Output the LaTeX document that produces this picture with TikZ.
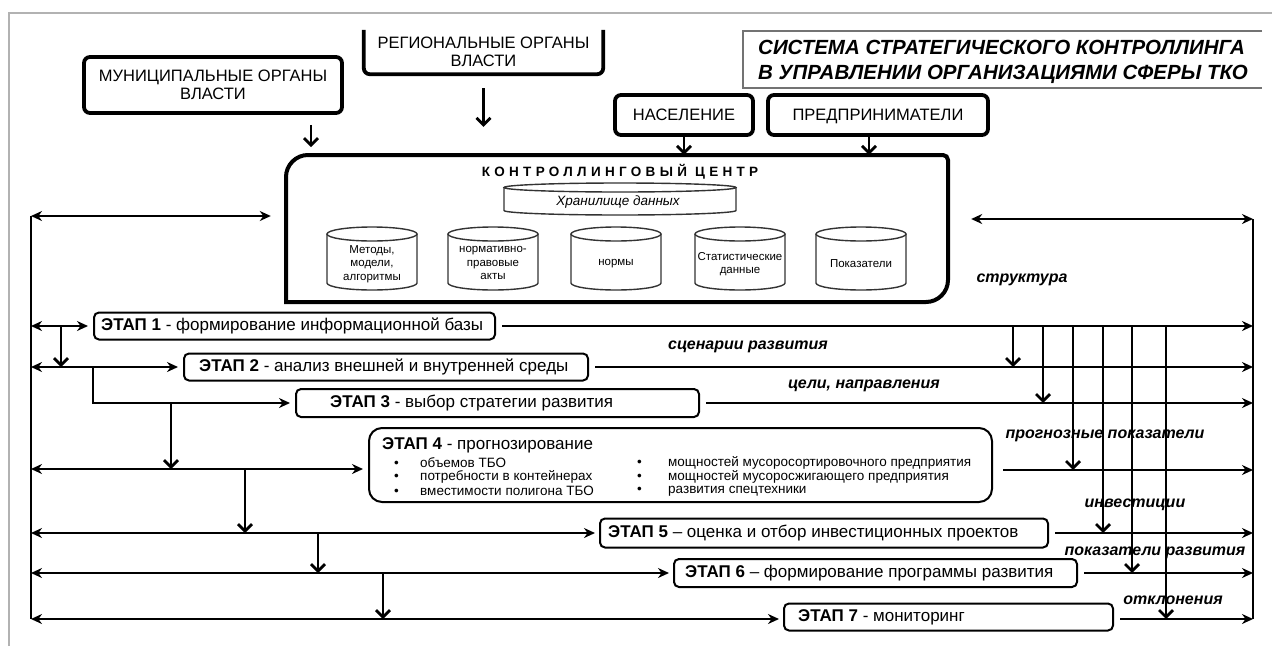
\documentclass[tikz,border=0pt]{standalone}
\usepackage{fontspec}
\setmainfont{Liberation Sans}
\newfontfamily\spacedfont[LetterSpace=32]{Liberation Sans}
\usetikzlibrary{arrows.meta}

% outline of an upright drum: centre x, top y, bottom y, half width, rim radius
\newcommand\drumoutline[5]{%
  \draw[drum] (#1,#2+#5) ellipse [x radius=#4, y radius=#5];
  \draw[drum] (#1-#4,#2+#5) -- (#1-#4,#3-#5)
     arc [start angle=180, end angle=0, x radius=#4, y radius=#5] -- (#1+#4,#2+#5);
}

\begin{document}
\begin{tikzpicture}[x=1pt, y=-1pt,
  topbox/.style={draw, line width=3.8pt, rounded corners=6pt, align=center, inner sep=0pt,
                 font=\fontsize{16.5}{18}\selectfont},
  plain/.style={align=center, inner sep=0pt, font=\fontsize{16.5}{18}\selectfont},
  stagebox/.style={draw, line width=2pt, rounded corners=5pt, inner sep=0pt},
  stagetext/.style={anchor=west, inner sep=0pt, font=\fontsize{17}{20}\selectfont},
  bul/.style={anchor=west, inner sep=0pt, font=\fontsize{13.5}{15}\selectfont},
  drum/.style={line width=1.4pt, draw=black!80},
  drumtext/.style={align=center, inner sep=0pt, font=\fontsize{11.5}{13.5}\selectfont},
  lbl/.style={inner sep=0pt, font=\fontsize{16}{18}\selectfont\bfseries\itshape},
  link/.style={line width=2.8pt},
  both/.style={link, {Stealth[length=11pt,width=10pt]}-{Stealth[length=11pt,width=10pt]}},
  toR/.style={link, -{Stealth[length=11pt,width=10pt]}},
  down/.style={link, -{Straight Barb[length=7pt,width=14pt]}}
]
\useasboundingbox (0,0) rectangle (1272,646);

% page frame
\draw[black!30, line width=1.5pt] (9,646) -- (9,13) -- (1272,13);

% title
\draw[black!55, line width=1.5pt] (1262,31) -- (743,31) -- (743,88) -- (1262,88);
\node[anchor=west, align=left, inner sep=0pt, font=\fontsize{20.5}{25}\selectfont\bfseries\itshape]
  (title) at (758,62) {СИСТЕМА СТРАТЕГИЧЕСКОГО КОНТРОЛЛИНГА\\В УПРАВЛЕНИИ ОРГАНИЗАЦИЯМИ СФЕРЫ ТКО};

% external parties
\node[topbox, minimum width=258pt, minimum height=56pt] (mun) at (213,85) {МУНИЦИПАЛЬНЫЕ ОРГАНЫ\\ВЛАСТИ};
\node[plain, minimum width=239pt, minimum height=44pt] (reg) at (483.5,52) {РЕГИОНАЛЬНЫЕ ОРГАНЫ\\ВЛАСТИ};
\draw[line width=3.8pt, rounded corners=6pt] (reg.north west) -- (reg.south west) -- (reg.south east) -- (reg.north east);
\node[topbox, text height=11.5pt, text depth=1pt, minimum width=138pt, minimum height=40pt] (pop) at (684,115) {НАСЕЛЕНИЕ};
\node[topbox, text height=11.5pt, text depth=1pt, minimum width=220pt, minimum height=40pt] (ent) at (878,115) {ПРЕДПРИНИМАТЕЛИ};

% controlling centre
\node[minimum width=662pt, minimum height=147pt, inner sep=0pt] (ctr) at (617,228.5) {};
\draw[line width=4pt] (286,302) -- (286,177) .. controls (286,164.9) and (295.9,155) .. (308,155)
  -- (943,155) .. controls (945.8,155) and (948,157.2) .. (948,160)
  -- (948,280) .. controls (948,292.1) and (938.1,302) .. (926,302) -- cycle;
\node[inner sep=0pt, font=\spacedfont\bfseries\fontsize{13.5}{15}\selectfont] (ctrtitle) at (620,172) {КОНТРОЛЛИНГОВЫЙ ЦЕНТР};

\drumoutline{620}{183}{215}{116}{4.5}
\node[inner sep=0pt, font=\fontsize{13.5}{15}\selectfont\itshape] (store) at (618,202) {Хранилище данных};

\drumoutline{372}{227}{290}{45}{7}
\drumoutline{493}{227}{290}{45}{7}
\drumoutline{616}{227}{290}{45}{7}
\drumoutline{740}{227}{290}{45}{7}
\drumoutline{861}{227}{290}{45}{7}
\node[drumtext] (c1) at (372,264) {Методы,\\модели,\\алгоритмы};
\node[drumtext] (c2) at (493,263) {нормативно-\\правовые\\акты};
\node[drumtext] (c3) at (616,264) {нормы};
\node[drumtext] (c4) at (740,264) {Статистические\\данные};
\node[drumtext] (c5) at (861,264) {Показатели};

% arrows from the external parties
\coordinate (m1) at (311,147);
\draw[down, shorten <=10pt] (mun.south -| m1) -- (m1);
\draw[down, shorten <=14pt, shorten >=28pt] (reg.south) -- (ctr.north -| reg.south);
\draw[down] (pop.south) -- (ctr.north -| pop.south);
\coordinate (e1) at (869,135);
\draw[down] (e1) -- (ctr.north -| e1);

% stages
\node[stagebox, minimum width=401pt, minimum height=27pt] (s1) at (294.5,326) {};
\node[stagetext] (t1) at ([xshift=8pt]s1.west) {\textbf{ЭТАП 1} - формирование информационной базы};
\node[stagebox, minimum width=404pt, minimum height=27pt] (s2) at (386,367) {};
\node[stagetext] (t2) at ([xshift=16pt]s2.west) {\textbf{ЭТАП 2} - анализ внешней и внутренней  среды};
\node[stagebox, minimum width=403pt, minimum height=28pt] (s3) at (497.5,403) {};
\node[stagetext] (t3) at ([xshift=35pt]s3.west) {\textbf{ЭТАП 3} - выбор стратегии развития};
\node[stagebox, rounded corners=13pt, minimum width=623pt, minimum height=74pt] (s4) at (680.5,465) {};
\node[stagetext] (t4) at (382,445) {\textbf{ЭТАП 4} - прогнозирование};
\node[bul] (b1) at (394,463) {\makebox[26pt][l]{•}объемов ТБО};
\node[bul] (b2) at (394,477) {\makebox[26pt][l]{•}потребности в контейнерах};
\node[bul] (b3) at (394,491) {\makebox[26pt][l]{•}вместимости полигона ТБО};
\node[bul] (b4) at (637,463) {\makebox[31pt][l]{•}мощностей мусоросортировочного предприятия};
\node[bul] (b5) at (637,477) {\makebox[31pt][l]{•}мощностей мусоросжигающего предприятия};
\node[bul] (b6) at (637,491) {\makebox[31pt][l]{•}развития спецтехники};
\node[stagebox, minimum width=448pt, minimum height=29pt] (s5) at (824,533) {};
\node[stagetext] (t5) at ([xshift=9pt]s5.west) {\textbf{ЭТАП 5} – оценка и отбор инвестиционных проектов};
\node[stagebox, minimum width=403pt, minimum height=28pt] (s6) at (875.5,573) {};
\node[stagetext] (t6) at ([xshift=12pt]s6.west) {\textbf{ЭТАП 6} – формирование программы развития};
\node[stagebox, minimum width=329pt, minimum height=27pt] (s7) at (948.5,617) {};
\node[stagetext] (t7) at ([xshift=15pt]s7.west) {\textbf{ЭТАП 7} - мониторинг};

% result labels
\node[lbl] (l0) at (1022,280) {структура};
\node[lbl] (l1) at (748,347) {сценарии развития};
\node[lbl] (l2) at (864,386) {цели, направления};
\node[lbl] (l3) at (1105,436) {прогнозные показатели};
\node[lbl] (l4) at (1135,505) {инвестиции};
\node[lbl] (l5) at (1155,553) {показатели развития};
\node[lbl] (l6) at (1173,600) {отклонения};

% feedback rails
\coordinate (Ltop) at (31,216);
\coordinate (Lbot) at (31,619);
\coordinate (Rtop) at (1253,219);
\coordinate (Rbot) at (1253,619);
\draw[link] (Ltop) -- (Lbot);
\draw[link] (Rtop) -- (Rbot);
\draw[both, shorten >=15pt] (Ltop) -- (ctr.west |- Ltop);
\draw[both, shorten <=23pt] (ctr.east |- Rtop) -- (Rtop);

% stage rows
\coordinate (r1) at (31,326);
\coordinate (r2) at (31,367);
\coordinate (r4) at (31,469);
\coordinate (r5) at (31,533);
\coordinate (r6) at (31,573);
\coordinate (r7) at (31,619);
\draw[both, shorten >=5pt] (r1) -- (s1.west |- r1);
\draw[both, shorten >=5pt] (r2) -- (s2.west |- r2);
\draw[both, shorten >=5pt] (r4) -- (s4.west |- r4);
\draw[both, shorten >=4pt] (r5) -- (s5.west |- r5);
\draw[both, shorten >=4pt] (r6) -- (s6.west |- r6);
\draw[both, shorten >=4pt] (r7) -- (s7.west |- r7);
\coordinate (j2) at (93,367);
\draw[toR, shorten >=5pt] (j2) |- (s3.west);

\draw[toR, shorten <=6pt] (s1.east |- r1) -- (r1 -| Rtop);
\draw[toR, shorten <=6pt] (s2.east |- r2) -- (r2 -| Rtop);
\draw[toR, shorten <=6pt] (s3.east) -- (s3.east -| Rtop);
\draw[toR, shorten <=10pt] (s4.east |- 0,470) -- (1253,470);
\draw[toR, shorten <=6pt] (s5.east |- r5) -- (r5 -| Rtop);
\draw[toR, shorten <=6pt] (s6.east |- r6) -- (r6 -| Rtop);
\draw[toR, shorten <=6pt] (s7.east |- r7) -- (r7 -| Rtop);

% hand-over arrows on the left
\coordinate (d1) at (61,326);
\coordinate (d3) at (171,403);
\coordinate (d4) at (245,469);
\coordinate (d5) at (318,533);
\coordinate (d6) at (383,573);
\draw[down] (d1) -- (d1 |- r2);
\draw[down] (d3) -- (d3 |- r4);
\draw[down] (d4) -- (d4 |- r5);
\draw[down] (d5) -- (d5 |- r6);
\draw[down] (d6) -- (d6 |- r7);

% results passed down on the right
\coordinate (u1) at (1013,326);
\coordinate (u2) at (1043,326);
\coordinate (u3) at (1073,326);
\coordinate (u4) at (1103,326);
\coordinate (u5) at (1132,326);
\coordinate (u6) at (1166,326);
\draw[down] (u1) -- (u1 |- r2);
\draw[down] (u2) -- (u2 |- s3.east);
\draw[down] (u3) -- (1073,470);
\draw[down] (u4) -- (u4 |- r5);
\draw[down] (u5) -- (u5 |- r6);
\draw[down] (u6) -- (u6 |- r7);
\end{tikzpicture}
\end{document}
